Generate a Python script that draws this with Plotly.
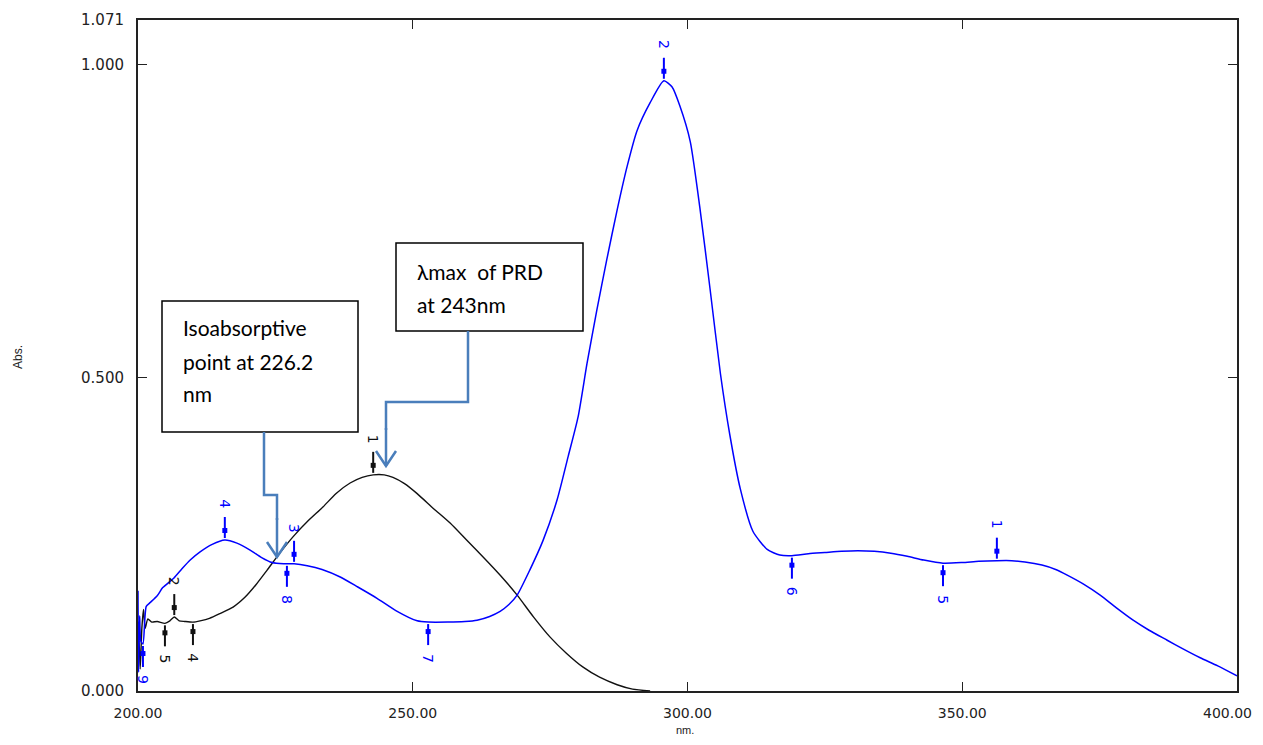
import numpy as np
import plotly.graph_objects as go

# ---------------- data ----------------
blue_nm = [200.0, 200.1, 200.3, 200.5, 200.9, 201.5, 202.2, 203.5, 204.5, 206.5, 208.0, 209.5,
           211.3, 213.5, 215.8, 218.0, 220.4, 222.5, 224.4, 226.5, 228.4, 230.8, 233.5, 236.8,
           240.0, 243.5, 247.0, 250.8, 252.8, 256.4, 259.5, 261.7, 264.0, 265.9, 267.5, 269.0,
           271.3, 273.7, 276.3, 278.3, 280.1, 281.7, 283.5, 285.3, 287.2, 289.0, 290.8, 293.2,
           295.7, 297.2, 298.6, 300.5, 302.3, 304.1, 306.0, 307.7, 309.6, 311.9, 314.5, 316.8,
           319.0, 322.0, 325.0, 328.0, 331.0, 334.0, 337.0, 340.0, 343.0, 346.5, 350.0, 353.0,
           356.3, 359.0, 361.4, 364.5, 367.0, 369.1, 372.0, 375.1, 378.0, 381.1, 384.0, 387.3,
           390.0, 393.3, 396.5, 400.0]
blue_abs = [0.160, 0.030, 0.120, 0.080, 0.075, 0.135, 0.141, 0.152, 0.165, 0.180, 0.195, 0.209,
            0.222, 0.234, 0.241, 0.236, 0.225, 0.213, 0.205, 0.203, 0.203, 0.200, 0.194, 0.182,
            0.166, 0.148, 0.128, 0.112, 0.110, 0.110, 0.111, 0.113, 0.119, 0.127, 0.138, 0.153,
            0.193, 0.240, 0.306, 0.375, 0.438, 0.522, 0.608, 0.688, 0.768, 0.837, 0.894, 0.939,
            0.974, 0.964, 0.934, 0.877, 0.768, 0.642, 0.506, 0.409, 0.323, 0.255, 0.226, 0.217,
            0.216, 0.219, 0.221, 0.223, 0.224, 0.223, 0.220, 0.215, 0.209, 0.204, 0.205, 0.207,
            0.208, 0.208, 0.206, 0.201, 0.194, 0.185, 0.171, 0.153, 0.133, 0.113, 0.097, 0.081,
            0.068, 0.053, 0.040, 0.024]

black_nm = [200.0, 200.2, 200.4, 200.7, 201.0, 201.3, 201.8, 202.5, 203.5, 204.9, 205.8, 206.6,
            207.5, 208.5, 210.0, 211.3, 213.0, 215.0, 217.3, 219.5, 221.5, 223.5, 225.8, 228.2,
            231.0, 233.7, 236.0, 238.6, 240.8, 242.8, 244.8, 246.4, 248.5, 250.8, 253.8, 256.8,
            259.8, 262.8, 266.0, 269.0, 272.0, 275.0, 278.0, 281.0, 284.0, 287.2, 290.0, 293.2]
black_abs = [0.040, 0.080, 0.035, 0.100, 0.130, 0.100, 0.115, 0.110, 0.111, 0.108, 0.112, 0.118,
             0.112, 0.111, 0.110, 0.112, 0.116, 0.124, 0.134, 0.150, 0.170, 0.193, 0.220, 0.246,
             0.272, 0.294, 0.315, 0.332, 0.341, 0.345, 0.345, 0.341, 0.331, 0.315, 0.291, 0.268,
             0.241, 0.214, 0.184, 0.153, 0.118, 0.086, 0.060, 0.038, 0.022, 0.010, 0.003, 0.000]

# peak / valley picks: wavelength, label, kind ("p" = peak, "v" = valley)
blue_pick_nm = [356.3, 295.7, 228.4, 215.8, 346.5, 319.0, 252.8, 227.1, 200.9]
blue_pick_lab = ["1", "2", "3", "4", "5", "6", "7", "8", "9"]
blue_pick_kind = ["p", "p", "p", "p", "v", "v", "v", "v", "v"]

black_pick_nm = [242.8, 206.6, 210.0, 204.9]
black_pick_lab = ["1", "2", "4", "5"]
black_pick_kind = ["p", "p", "v", "v"]

x_tick_vals = [200, 250, 300, 350, 400]
x_tick_text = ["200.00", "250.00", "300.00", "350.00", "400.00"]
y_tick_vals = [0.0, 0.5, 1.0, 1.071]
y_tick_text = ["0.000", "0.500", "1.000", "1.071"]

# ---------------- layout geometry ----------------
# the page body has an 8 px margin, so the figure is placed at (8, 8)
OFF = 8
W, H = 1247, 729
ML, MR, MT, MB = 130, 18, 12, 46
PW, PH = W - ML - MR, H - MT - MB


def px(xp):
    # screen pixel -> paper fraction
    return (xp - OFF - ML) / PW


def py(yp):
    return (OFF + H - MB - yp) / PH


BLUE = "#0000ff"
BLACK = "#111111"
ARROW = "#4a7ebb"

fig = go.Figure()
fig.add_trace(go.Scatter(x=black_nm, y=black_abs, mode="lines",
                         line=dict(color=BLACK, width=1.4, shape="spline", smoothing=0.6),
                         hoverinfo="skip"))
fig.add_trace(go.Scatter(x=blue_nm, y=blue_abs, mode="lines",
                         line=dict(color=BLUE, width=1.5, shape="spline", smoothing=0.6),
                         hoverinfo="skip"))

shapes = []
annotations = []
pick_font_family = "DejaVu Sans, Liberation Sans, Arial"


def add_picks(nm_list, labels, kinds, xs, ys, color):
    for wl, lab, kind in zip(nm_list, labels, kinds):
        v = float(np.interp(wl, xs, ys))
        s = 1 if kind == "p" else -1
        shapes.append(dict(type="line", xref="x", yref="y", ysizemode="pixel", yanchor=v,
                           x0=wl, x1=wl, y0=s * 2, y1=s * 23,
                           line=dict(color=color, width=2)))
        shapes.append(dict(type="rect", xref="x", yref="y", xsizemode="pixel", ysizemode="pixel",
                           xanchor=wl, yanchor=v, x0=-2.5, x1=2.5,
                           y0=s * 7, y1=s * 12, fillcolor=color, line=dict(width=0)))
        annotations.append(dict(x=wl, y=v, xref="x", yref="y", text=lab, showarrow=False,
                                textangle=90, yshift=s * 36,
                                font=dict(family=pick_font_family, size=14, color=color)))


add_picks(blue_pick_nm, blue_pick_lab, blue_pick_kind, blue_nm, blue_abs, BLUE)
add_picks(black_pick_nm, black_pick_lab, black_pick_kind, black_nm, black_abs, BLACK)

# callout boxes
shapes.append(dict(type="rect", xref="paper", yref="paper", x0=px(162), x1=px(358),
                   y0=py(432), y1=py(301), line=dict(color="black", width=1.5),
                   fillcolor="white", layer="above"))
shapes.append(dict(type="rect", xref="paper", yref="paper", x0=px(396), x1=px(583),
                   y0=py(331), y1=py(243), line=dict(color="black", width=1.5),
                   fillcolor="white", layer="above"))

box_font = dict(family="Lato, Open Sans, sans-serif", size=21, color="black")
for txt, xp, yp in [("Isoabsorptive", 181, 328), ("point at 226.2", 181, 361), ("nm", 181, 394),
                    ("λmax  of PRD", 415, 271), ("at 243nm", 415, 305)]:
    annotations.append(dict(x=px(xp), y=py(yp), xref="paper", yref="paper", text=txt,
                            showarrow=False, xanchor="left", yanchor="middle", font=box_font))

# connector lines (elbow) from boxes
shapes.append(dict(type="path", xref="paper", yref="paper",
                   path=f"M{px(264)},{py(432)} L{px(264)},{py(495)} L{px(277)},{py(495)} L{px(277)},{py(520)}",
                   line=dict(color=ARROW, width=2.5)))
shapes.append(dict(type="path", xref="paper", yref="paper",
                   path=f"M{px(468)},{py(331)} L{px(468)},{py(402)} L{px(386)},{py(402)} L{px(386)},{py(430)}",
                   line=dict(color=ARROW, width=2.5)))
# arrow tails + open V heads
for xt, ytip, ytop in [(277, 557, 518), (386, 466, 428)]:
    shapes.append(dict(type="path", xref="paper", yref="paper",
                       path=f"M{px(xt)},{py(ytop)} L{px(xt)},{py(ytip)}",
                       line=dict(color=ARROW, width=2.5)))
    shapes.append(dict(type="path", xref="paper", yref="paper",
                       path=f"M{px(xt - 10)},{py(ytip - 15)} L{px(xt)},{py(ytip)} L{px(xt + 10)},{py(ytip - 15)}",
                       line=dict(color=ARROW, width=2.5)))

# axis titles
annotations.append(dict(x=px(18), y=py(357), xref="paper", yref="paper", text="Abs.",
                        showarrow=False, textangle=-90, xanchor="center", yanchor="middle",
                        font=dict(family="Liberation Sans, Arial", size=12, color="#222")))
annotations.append(dict(x=px(685), y=py(730), xref="paper", yref="paper", text="nm.",
                        showarrow=False, xanchor="center", yanchor="middle",
                        font=dict(family="Liberation Sans, Arial", size=11, color="#222")))

tick_font = dict(family="DejaVu Sans, Liberation Sans, Arial", size=15, color="#222")
xtick_font = dict(family="DejaVu Sans, Liberation Sans, Arial", size=14, color="#222")

# the last x tick label sits at the page edge: draw it right-aligned so it stays visible
x_axis_text = x_tick_text[:-1] + [""]
annotations.append(dict(x=x_tick_vals[-1], y=py(713), xref="x", yref="paper",
                        text=x_tick_text[-1], showarrow=False, xanchor="right", yanchor="middle",
                        xshift=(W + OFF - 1) - (OFF + W - MR), font=xtick_font))

fig.update_layout(
    width=W, height=H,
    margin=dict(l=ML, r=MR, t=MT, b=MB, pad=0, autoexpand=False),
    paper_bgcolor="white", plot_bgcolor="white",
    showlegend=False,
    shapes=shapes, annotations=annotations,
    xaxis=dict(range=[200, 400], tickvals=x_tick_vals, ticktext=x_axis_text,
               automargin=False, ticklabeloverflow="allow",
               showgrid=False, zeroline=False, showline=True, linecolor="#222", linewidth=2,
               mirror="ticks", ticks="inside", ticklen=9, tickcolor="#222", tickwidth=1.2,
               tickfont=xtick_font, ticklabelstandoff=8),
    yaxis=dict(range=[0, 1.071], tickvals=y_tick_vals, ticktext=y_tick_text,
               automargin=False, ticklabeloverflow="allow",
               showgrid=False, zeroline=False, showline=True, linecolor="#222", linewidth=2,
               mirror="ticks", ticks="inside", ticklen=9, tickcolor="#222", tickwidth=1.2,
               tickfont=tick_font, ticklabelstandoff=9),
)

fig.write_html("out.html")
